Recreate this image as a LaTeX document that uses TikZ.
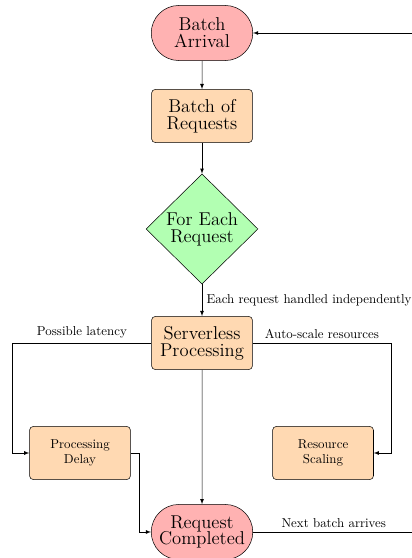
\documentclass[tikz,border=0pt]{standalone}
\usetikzlibrary{shapes.geometric,shapes.misc}

\begin{document}
\begin{tikzpicture}[>=latex,
    startstop/.style={rounded rectangle, draw, fill=red!30, minimum width=3cm, minimum height=1.5cm, align=center, font=\fontsize{14.4}{13}\selectfont},
    process/.style={rectangle, rounded corners=3pt, draw, fill=orange!30, minimum width=2.75cm, minimum height=1.45cm, align=center, font=\fontsize{14.4}{13}\selectfont},
    subprocess/.style={rectangle, rounded corners=3pt, draw, fill=orange!30, minimum width=2.75cm, minimum height=1.45cm, align=center},
    decision/.style={diamond, draw, fill=green!30, minimum width=3.05cm, minimum height=3cm, inner sep=0pt, align=center, font=\fontsize{14.4}{13}\selectfont}]
    \useasboundingbox (-5.504,0.899) rectangle (5.721,-14.304);
    % Nodes
    \node[startstop] (arrival) at (0,0) {Batch\\Arrival};
    \node[process] (batch) at (0,-2.261) {Batch of\\Requests};
    \node[decision] (each) at (0,-5.340) {For Each\\Request};
    \node[process] (serverless) at (0,-8.446) {Serverless\\Processing};
    \node[subprocess] (delay) at (-3.324,-11.443) {Processing\\Delay};
    \node[subprocess] (scaling) at (3.297,-11.443) {Resource\\Scaling};
    \node[startstop] (done) at (0,-13.595) {Request\\Completed};
    % Arrows
    \draw[->] (arrival) -- (batch);
    \draw[->] (batch) -- (each);
    \draw[->] (each) -- node[right] {Each request handled independently} (serverless);
    \draw[->] (serverless.west) -- ++(-3.78,0) node[midway, above] {Possible latency} |- (delay.west);
    \draw[->] (serverless.east) -- ++(3.77,0) node[midway, above] {Auto-scale resources} |- (scaling.east);
    \draw[->] (delay.east) -- ++(0.22,0) |- (done.west);
    \draw[->] (serverless) -- (done);
    % Loop back
    \draw[->] (done.east) -- ++(4.4,0) node[midway, above] {Next batch arrives} |- (arrival.east);
\end{tikzpicture}
\end{document}
